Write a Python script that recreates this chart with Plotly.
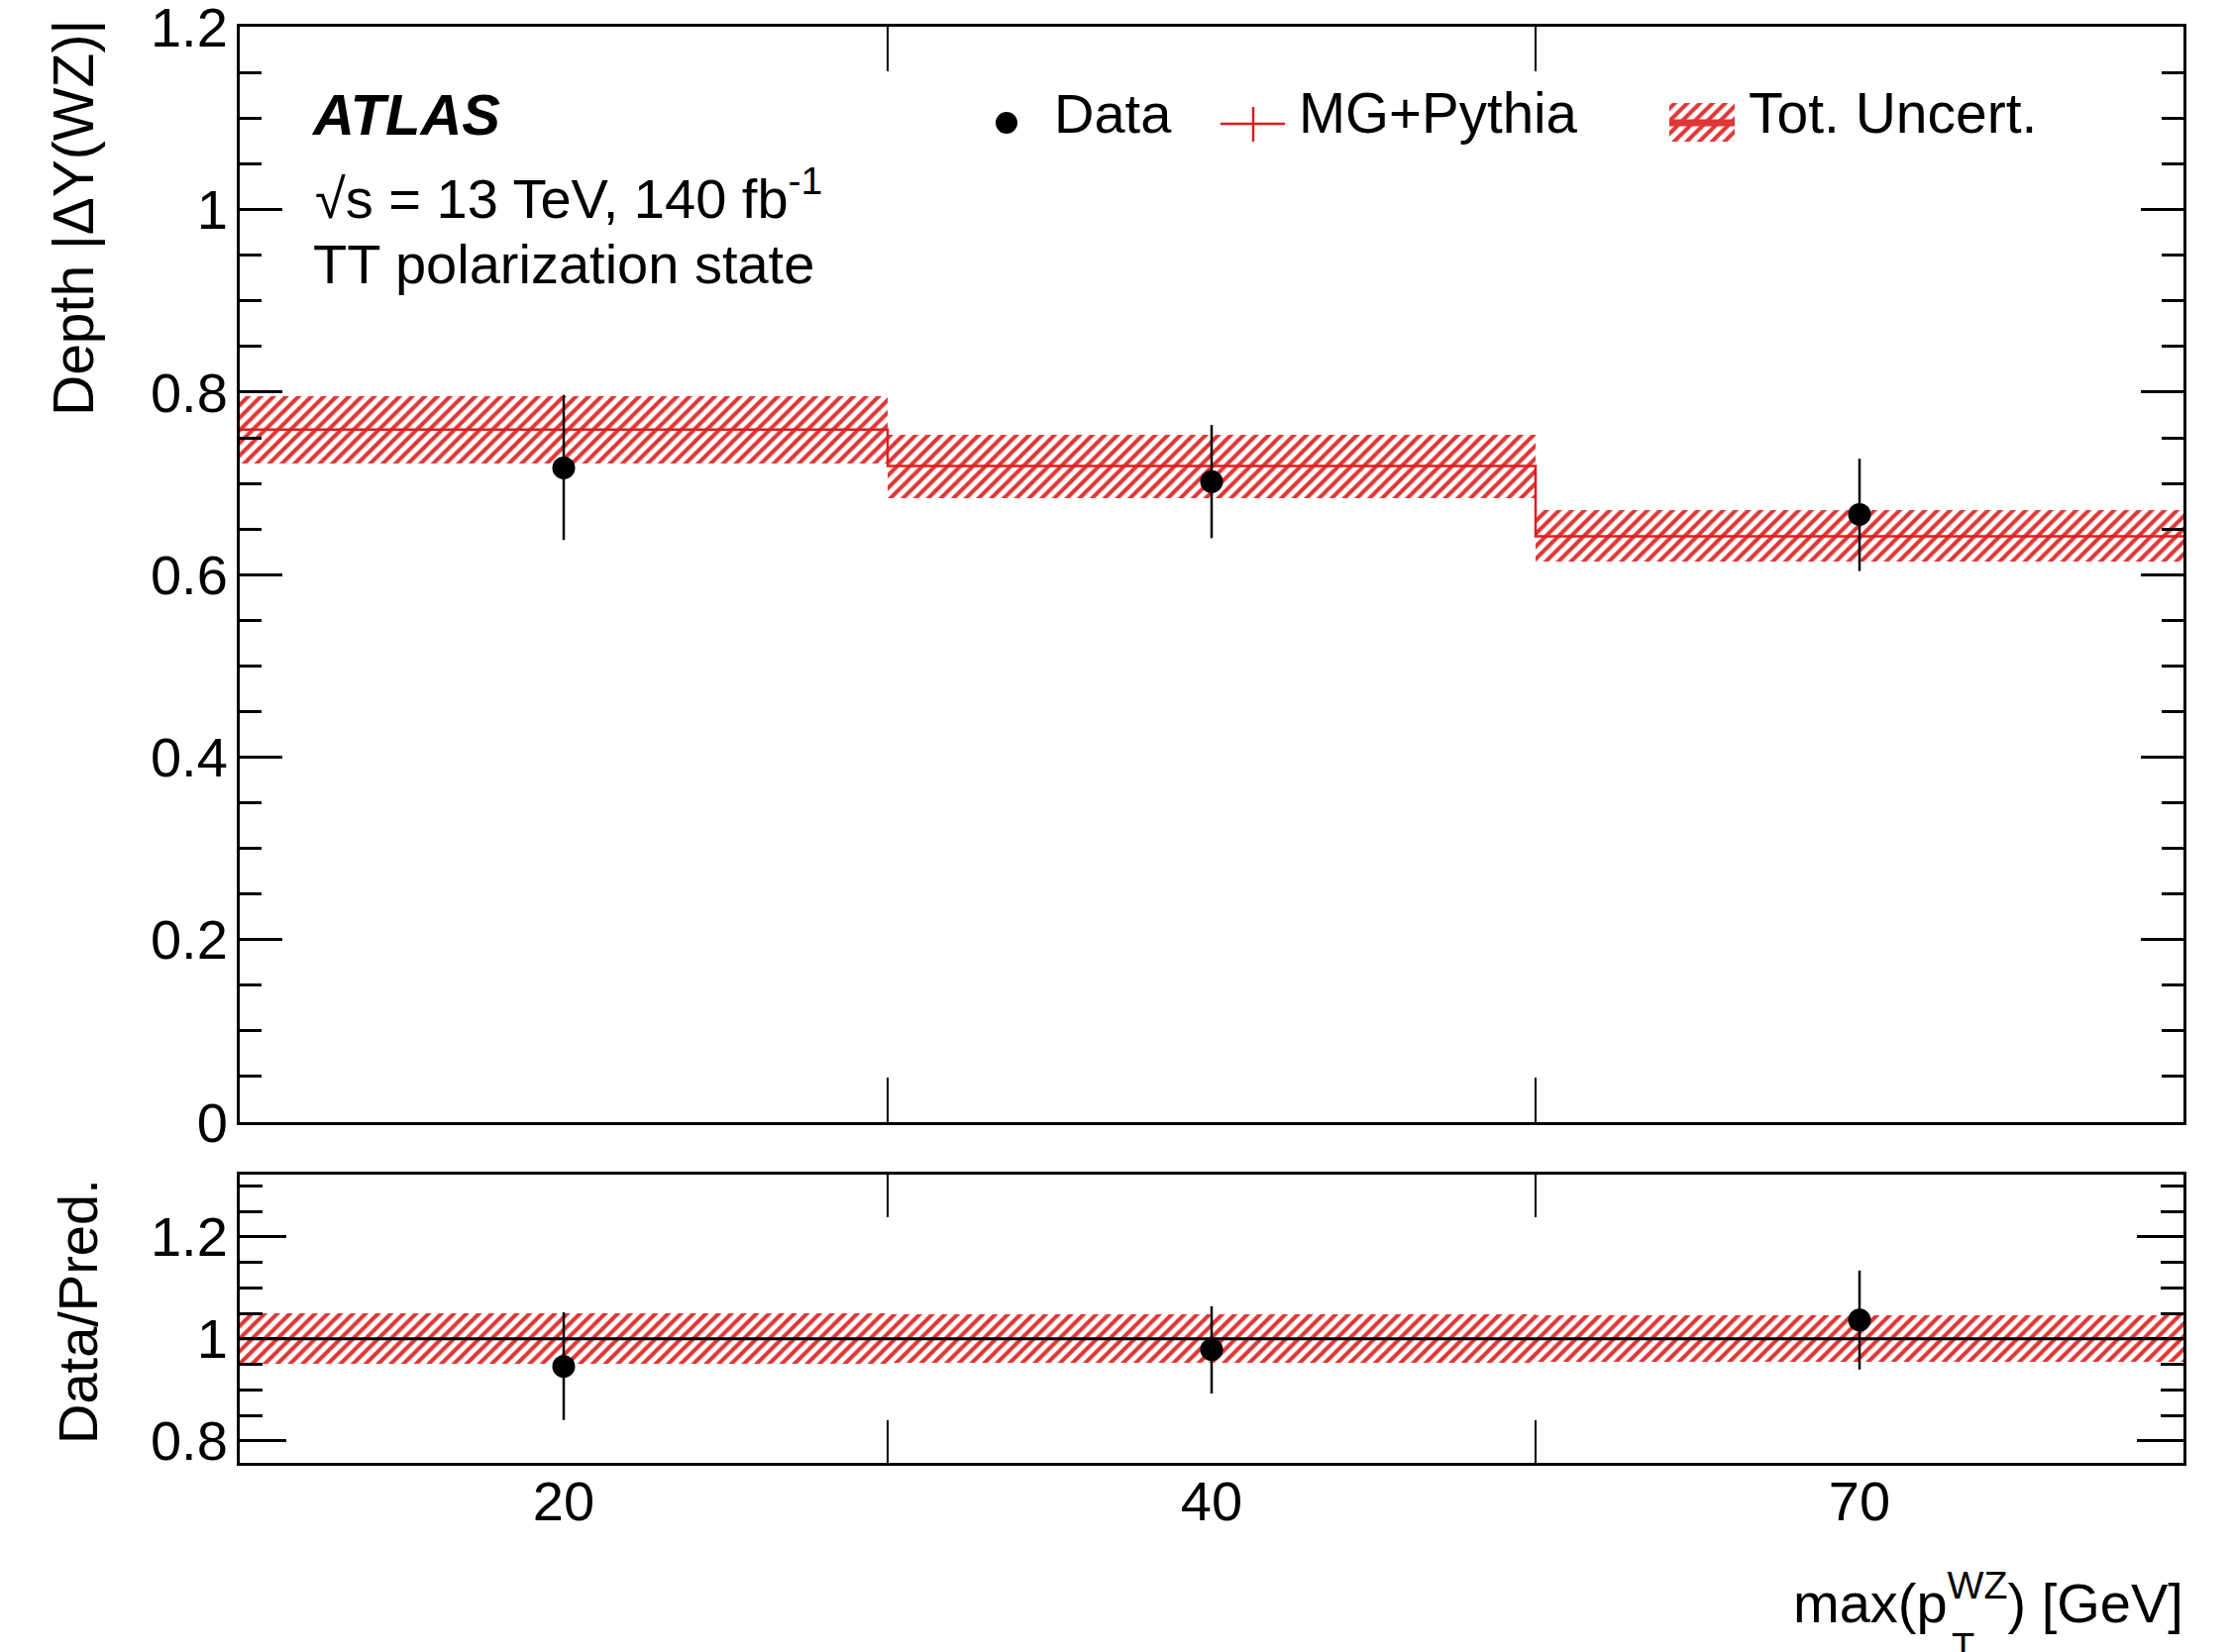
import plotly.graph_objects as go

# ---------------- data ----------------
bin_labels = ["20", "40", "70"]
bin_centers = [0.5, 1.5, 2.5]
bin_edges = [0, 1, 2, 3]

mc_pred = [0.759, 0.719, 0.642]
band_hi = [0.796, 0.753, 0.6705]
band_lo = [0.722, 0.684, 0.614]

data_val = [0.717, 0.702, 0.666]
data_hi = [0.797, 0.764, 0.727]
data_lo = [0.638, 0.640, 0.604]

ratio_val = [0.946, 0.979, 1.037]
ratio_hi = [1.052, 1.064, 1.134]
ratio_lo = [0.841, 0.893, 0.940]
rband_hi = [1.050, 1.049, 1.047]
rband_lo = [0.951, 0.953, 0.955]

main_yticks = [0, 0.2, 0.4, 0.6, 0.8, 1.0, 1.2]
main_yticktext = ["0", "0.2", "0.4", "0.6", "0.8", "1", "1.2"]
ratio_yticks = [0.8, 1.0, 1.2]
ratio_yticktext = ["0.8", "1", "1.2"]

# ---------------- styling ----------------
W, H = 2254, 1668
FONT = "Liberation Sans"
FS = 56
RED_LINE = "#dd1f1f"
RED_HATCH = "#e03636"


def px(x):
    return x / W


def py(y):
    return 1 - y / H


main_dom_y = [py(1133), py(27)]
ratio_dom_y = [py(1477), py(1186)]
dom_x = [px(242), px(2204)]

fig = go.Figure()

pattern = dict(shape="/", fgcolor=RED_HATCH, bgcolor="rgba(0,0,0,0)",
               size=9, solidity=0.45, fillmode="replace")

# main panel: uncertainty band
fig.add_trace(go.Bar(
    x=bin_centers, base=band_lo,
    y=[h - l for h, l in zip(band_hi, band_lo)],
    width=1, marker=dict(color="rgba(0,0,0,0)", line=dict(width=0), pattern=pattern),
    xaxis="x", yaxis="y", showlegend=False, hoverinfo="skip"))

# main panel: MC step line
fig.add_trace(go.Scatter(
    x=bin_edges, y=mc_pred + [mc_pred[-1]], mode="lines",
    line=dict(color=RED_LINE, width=2.5, shape="hv"),
    xaxis="x", yaxis="y", showlegend=False))

# main panel: data
fig.add_trace(go.Scatter(
    x=bin_centers, y=data_val, mode="markers",
    marker=dict(color="black", size=23),
    error_y=dict(type="data", symmetric=False,
                 array=[h - v for h, v in zip(data_hi, data_val)],
                 arrayminus=[v - l for v, l in zip(data_val, data_lo)],
                 color="black", thickness=2.5, width=0),
    xaxis="x", yaxis="y", showlegend=False))

# ratio panel: band
fig.add_trace(go.Bar(
    x=bin_centers, base=rband_lo,
    y=[h - l for h, l in zip(rband_hi, rband_lo)],
    width=1, marker=dict(color="rgba(0,0,0,0)", line=dict(width=0), pattern=pattern),
    xaxis="x2", yaxis="y2", showlegend=False, hoverinfo="skip"))

# ratio panel: unity line
fig.add_trace(go.Scatter(
    x=[bin_edges[0], bin_edges[-1]], y=[1, 1], mode="lines",
    line=dict(color="black", width=3),
    xaxis="x2", yaxis="y2", showlegend=False))

# ratio panel: data / prediction
fig.add_trace(go.Scatter(
    x=bin_centers, y=ratio_val, mode="markers",
    marker=dict(color="black", size=23),
    error_y=dict(type="data", symmetric=False,
                 array=[h - v for h, v in zip(ratio_hi, ratio_val)],
                 arrayminus=[v - l for v, l in zip(ratio_val, ratio_lo)],
                 color="black", thickness=2.5, width=0),
    xaxis="x2", yaxis="y2", showlegend=False))

# ---------------- legend keys (pixel overlay axis) ----------------
fig.add_trace(go.Scatter(x=[1016], y=[124], mode="markers",
                         marker=dict(color="black", size=22),
                         xaxis="x3", yaxis="y3", showlegend=False, hoverinfo="skip"))
fig.add_trace(go.Scatter(x=[1232, 1297, None, 1265, 1265], y=[125, 125, None, 108, 143],
                         mode="lines", line=dict(color=RED_LINE, width=2.5),
                         xaxis="x3", yaxis="y3", showlegend=False, hoverinfo="skip"))
fig.add_trace(go.Scatter(x=[1685, 1751, 1751, 1685, 1685], y=[104, 104, 143, 143, 104],
                         mode="lines", line=dict(width=0), fill="toself",
                         fillcolor="rgba(0,0,0,0)",
                         fillpattern=dict(shape="/", fgcolor=RED_HATCH, bgcolor="rgba(0,0,0,0)",
                                          size=9, solidity=0.45, fillmode="replace"),
                         xaxis="x3", yaxis="y3", showlegend=False, hoverinfo="skip"))
fig.add_trace(go.Scatter(x=[1685, 1751], y=[124, 124], mode="lines",
                         line=dict(color=RED_HATCH, width=7),
                         xaxis="x3", yaxis="y3", showlegend=False, hoverinfo="skip"))

axis_common = dict(showline=True, linecolor="black", linewidth=3, mirror="allticks",
                   ticks="inside", showgrid=False, zeroline=False, automargin=False,
                   ticklabeloverflow="allow",
                   tickfont=dict(family=FONT, size=FS, color="black"))

fig.update_layout(
    template="none",
    width=W, height=H,
    margin=dict(l=0, r=0, t=0, b=0, pad=0, autoexpand=False),
    paper_bgcolor="white", plot_bgcolor="rgba(0,0,0,0)",
    barmode="overlay", bargap=0, showlegend=False,
    font=dict(family=FONT, size=FS, color="black"),
    xaxis=dict(axis_common, domain=dom_x, range=[0, 3], tickmode="array",
               tickvals=bin_centers, ticktext=bin_labels, ticklen=0,
               showticklabels=False,
               minor=dict(tickmode="array", tickvals=[1, 2], ticklen=45,
                          tickwidth=2, tickcolor="black", ticks="inside")),
    yaxis=dict(axis_common, domain=main_dom_y, range=[0, 1.2005], tickmode="array",
               tickvals=main_yticks, ticktext=main_yticktext,
               ticklen=43, tickwidth=3, tickcolor="black", ticklabelstandoff=-2,
               minor=dict(tickmode="linear", tick0=0, dtick=0.05, ticklen=22, tickwidth=3,
                          tickcolor="black", ticks="inside")),
    xaxis2=dict(axis_common, domain=dom_x, range=[0, 3], anchor="y2", tickmode="array",
                tickvals=bin_centers, ticktext=bin_labels, ticklen=0,
                ticklabelstandoff=-12,
                minor=dict(tickmode="array", tickvals=[1, 2], ticklen=43,
                           tickwidth=2, tickcolor="black", ticks="inside")),
    yaxis2=dict(axis_common, domain=ratio_dom_y, range=[0.757, 1.322], anchor="x2",
                tickmode="array", tickvals=ratio_yticks, ticktext=ratio_yticktext,
                ticklen=47, tickwidth=3, tickcolor="black",
                ticklabelstandoff=-2,
                minor=dict(tickmode="linear", tick0=0, dtick=0.05, ticklen=23, tickwidth=3,
                           tickcolor="black", ticks="inside")),
    xaxis3=dict(domain=[0, 1], range=[0, W], visible=False, anchor="y3",
                fixedrange=True, automargin=False),
    yaxis3=dict(domain=[0, 1], range=[H, 0], visible=False, anchor="x3",
                fixedrange=True, automargin=False),
)

ann = []


def text(t, x, y, xanchor="left", yanchor="middle", size=FS, angle=0):
    ann.append(dict(text=t, x=px(x), y=py(y), xref="paper", yref="paper",
                    xanchor=xanchor, yanchor=yanchor, showarrow=False,
                    textangle=angle, font=dict(family=FONT, size=size, color="black")))


text("<b><i>ATLAS</i></b>", 312, 115, size=58)
text("√s = 13 TeV, 140 fb<sup>-1</sup>", 316, 196)
text("TT polarization state", 314, 266)

text("Data", 1062, 114)
text("MG+Pythia", 1309, 114, size=56.5)
text("Tot. Uncert.", 1763, 114, size=57)

text("Depth |ΔY(WZ)|", 74, 18, xanchor="center", yanchor="top", angle=-90, size=57)
text("Data/Pred.", 78, 1188, xanchor="center", yanchor="top", angle=-90)

text("max(p<sup>WZ</sup>) [GeV]", 2206, 1614, xanchor="right", yanchor="middle")
text("T", 1981, 1640, xanchor="center", yanchor="top", size=38)

fig.update_layout(annotations=ann)

fig.write_html("out.html")
